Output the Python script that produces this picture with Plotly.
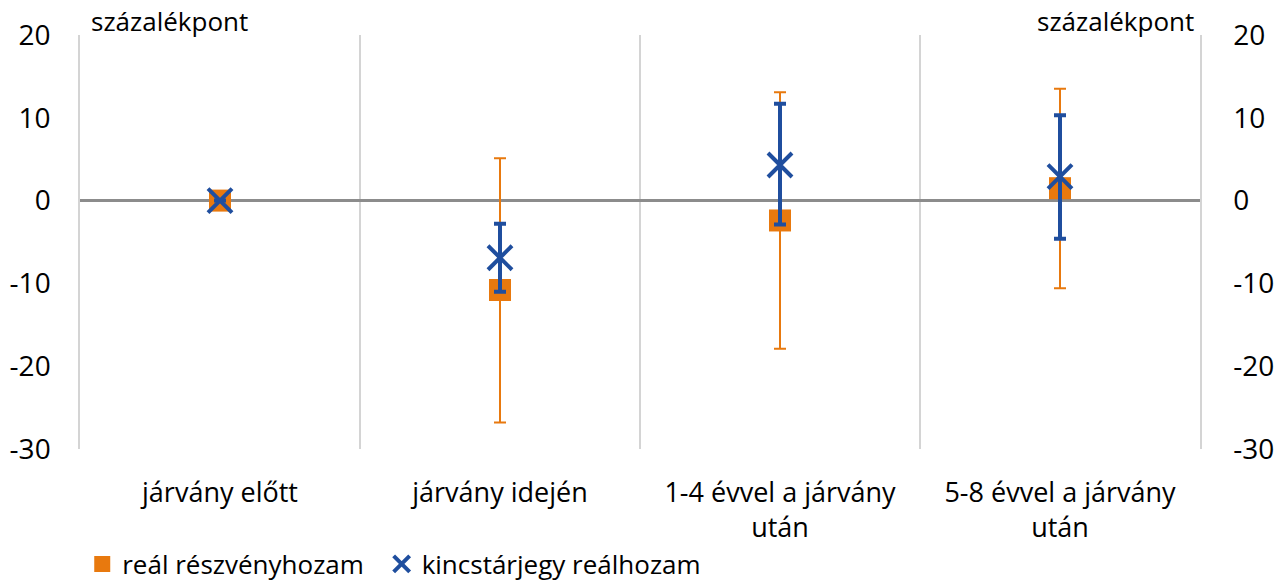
import plotly.graph_objects as go

# Periods around the pandemic
categories = ["járvány előtt", "járvány idején", "1-4 évvel a járvány<br>után", "5-8 évvel a járvány<br>után"]

# Real equity return (percentage points) with asymmetric bands
equity = [0.0, -10.8, -2.4, 1.5]
equity_upper = [0.0, 5.1, 13.1, 13.5]
equity_lower = [0.0, -26.8, -17.9, -10.6]

# Real treasury bill yield (percentage points) with asymmetric bands
tbill = [0.0, -6.9, 4.3, 2.9]
tbill_upper = [0.0, -2.8, 11.7, 10.3]
tbill_lower = [0.0, -11.0, -2.9, -4.6]

y_ticks = [-30, -20, -10, 0, 10, 20]
y_tick_labels = ["-30", "-20", "-10", "0", "10", "20"]

ORANGE = "#E8790E"
BLUE = "#1F4E9E"
GRID = "#D4D4D4"
FONT = "Open Sans"

fig = go.Figure()

fig.add_trace(go.Scatter(
    x=categories, y=equity, mode="markers", name="reál részvényhozam",
    legend="legend",
    marker=dict(symbol="square", size=22, color=ORANGE),
    error_y=dict(
        type="data", symmetric=False,
        array=[u - v for u, v in zip(equity_upper, equity)],
        arrayminus=[v - l for l, v in zip(equity_lower, equity)],
        color=ORANGE, thickness=2, width=6,
    ),
))

fig.add_trace(go.Scatter(
    x=categories, y=tbill, mode="markers", name="kincstárjegy reálhozam",
    legend="legend2",
    marker=dict(symbol="x-thin", size=24, color=BLUE, line=dict(color=BLUE, width=4)),
    error_y=dict(
        type="data", symmetric=False,
        array=[u - v for u, v in zip(tbill_upper, tbill)],
        arrayminus=[v - l for l, v in zip(tbill_lower, tbill)],
        color=BLUE, thickness=4, width=6,
    ),
))

# invisible trace so the mirrored right-hand axis is drawn
fig.add_trace(go.Scatter(
    x=categories, y=[0] * len(categories), yaxis="y2", mode="markers",
    marker=dict(opacity=0), showlegend=False, hoverinfo="skip",
))

axis_font = dict(family=FONT, size=28, color="#000000")
legend_common = dict(
    orientation="h", xref="container", yref="container",
    y=0.076, xanchor="left", yanchor="top",
    font=dict(family=FONT, size=26), itemwidth=30,
)

fig.update_layout(
    width=1285, height=585,
    margin=dict(l=80, r=85, t=35, b=136, autoexpand=False),
    paper_bgcolor="white", plot_bgcolor="white",
    font=dict(family=FONT, size=25, color="#000000"),
    showlegend=True,
    legend=dict(x=0.064, **legend_common),
    legend2=dict(x=0.297, **legend_common),
    xaxis=dict(
        type="category", range=[-0.5, 3.5], automargin=False,
        tickson="boundaries", showgrid=True, gridcolor=GRID, gridwidth=1.5,
        ticks="", ticklabelstandoff=25,
        tickfont=dict(family=FONT, size=27), zeroline=False,
        showline=False,
    ),
    yaxis=dict(
        range=[-30, 20], tickvals=y_ticks, ticktext=y_tick_labels, showgrid=False,
        zeroline=True, zerolinecolor="#8C8C8C", zerolinewidth=3,
        ticks="outside", ticklen=22, tickcolor="rgba(0,0,0,0)",
        tickfont=axis_font, showline=True, linecolor=GRID, linewidth=1.5,
        automargin=False,
    ),
    yaxis2=dict(
        range=[-30, 20], tickvals=y_ticks, ticktext=y_tick_labels,
        overlaying="y", side="right",
        showgrid=False, zeroline=False,
        ticks="outside", ticklen=26, tickcolor="rgba(0,0,0,0)",
        tickfont=axis_font, showline=True, linecolor=GRID, linewidth=1.5,
        automargin=False,
    ),
    annotations=[
        dict(text="százalékpont", xref="paper", yref="paper", x=0.008, y=1.0,
             xanchor="left", yanchor="bottom", showarrow=False,
             font=dict(family=FONT, size=26), yshift=-6),
        dict(text="százalékpont", xref="paper", yref="paper", x=0.996, y=1.0,
             xanchor="right", yanchor="bottom", showarrow=False,
             font=dict(family=FONT, size=26), yshift=-6),
    ],
)

fig.write_html("out.html")
